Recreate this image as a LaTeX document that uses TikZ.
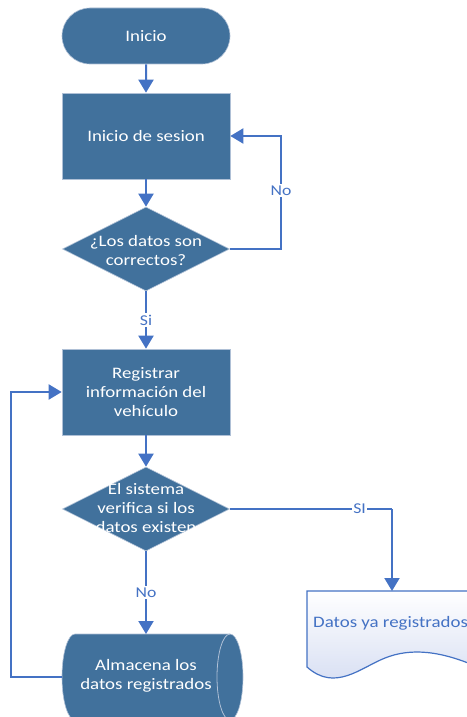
\documentclass[tikz,border=0pt]{standalone}
\usepackage{fontspec}
\setmainfont{Carlito}[FakeStretch=1.18]
\usetikzlibrary{shapes.geometric,shapes.misc,arrows.meta}
\definecolor{boxfill}{RGB}{65,113,156}
\definecolor{conn}{RGB}{68,114,196}
\definecolor{edgec}{RGB}{175,192,214}
\definecolor{docfill}{RGB}{212,220,242}
\begin{document}
\begin{tikzpicture}[x=1pt,y=-1pt,
  box/.style={fill=boxfill, draw=edgec, line width=0.6pt, text=white,
    font=\fontsize{16}{19}\selectfont, align=center, inner sep=0pt},
  term/.style={box, rounded rectangle, minimum width=168pt, minimum height=56pt},
  proc/.style={box, rectangle, minimum width=168pt, minimum height=86pt},
  dec/.style={box, diamond, minimum width=167pt, minimum height=84pt},
  wtxt/.style={text=white, font=\fontsize{16}{19}\selectfont, align=center, inner sep=0pt},
  arr/.style={draw=conn, line width=2pt, -{Triangle[width=15pt,length=13pt]}},
  cline/.style={draw=conn, line width=2pt},
  lbl/.style={fill=white, text=conn, font=\fontsize{15}{18}\selectfont, inner sep=1.5pt},
]
\useasboundingbox (0,0) rectangle (466,717);
\fill[white] (0,0) rectangle (466,717);

% shapes
\node[term] (ini) at (146,36) {Inicio};
\node[proc] (ses) at (146,136) {Inicio de sesion};
\node[dec] (d1) at (146,249) {};
\node[wtxt] (d1t) at (146,251) {¿Los datos son\\correctos?};
\node[proc] (reg) at (146,392) {Registrar\\información del\\vehículo};
\node[dec] (d2) at (146,509) {};
\node[wtxt] (d2t) at (146,508) {El sistema\\verifica si los\\datos existen};

% document shape
\path[draw=conn, line width=1.2pt, top color=white, bottom color=docfill]
  (307,591) -- (480,591) -- (480,668)
  .. controls (440,650) and (410,648) .. (385,658)
  .. controls (360,668) and (335,692) .. (307,667) -- cycle;
\node[anchor=west, text=conn, font=\fontsize{16}{19}\selectfont, inner sep=0pt] (doc) at (313,623) {Datos ya registrados};
\coordinate (doctop) at (392,591);

% storage (cylinder) shape
\path[fill=boxfill, draw=edgec, line width=0.6pt]
  (75,634) -- (230,634) arc[start angle=90, end angle=-90, x radius=13pt, y radius=43pt]
  -- (75,720) arc[start angle=270, end angle=90, x radius=13pt, y radius=43pt] -- cycle;
\draw[edgec, line width=0.8pt] (230,634) arc[start angle=90, end angle=270, x radius=13pt, y radius=43pt];
\node[wtxt] (cyl) at (146,676) {Almacena los\\datos registrados};
\coordinate (cyltop) at (146,634);
\coordinate (cylw) at (62,677);

% connectors
\draw[arr] (ini) -- (ses);
\draw[arr] (ses) -- (d1);
\coordinate (c1) at (281,249);
\draw[arr] (d1.east) -- (c1) |- node[lbl, pos=0.26] {No} (ses.east);
\draw[arr] (d1) -- node[lbl] {Si} (reg);
\draw[arr] (reg) -- (d2);
\coordinate (c2) at (392,509);
\draw[cline] (d2.east) -- node[lbl, pos=0.8] {SI} (c2);
\draw[arr] (c2) -- (doctop);
\draw[arr] (d2) -- node[lbl] {No} (cyltop);
\coordinate (c3) at (11,677);
\draw[arr] (cylw) -- (c3) |- (reg.west);
\end{tikzpicture}
\end{document}
